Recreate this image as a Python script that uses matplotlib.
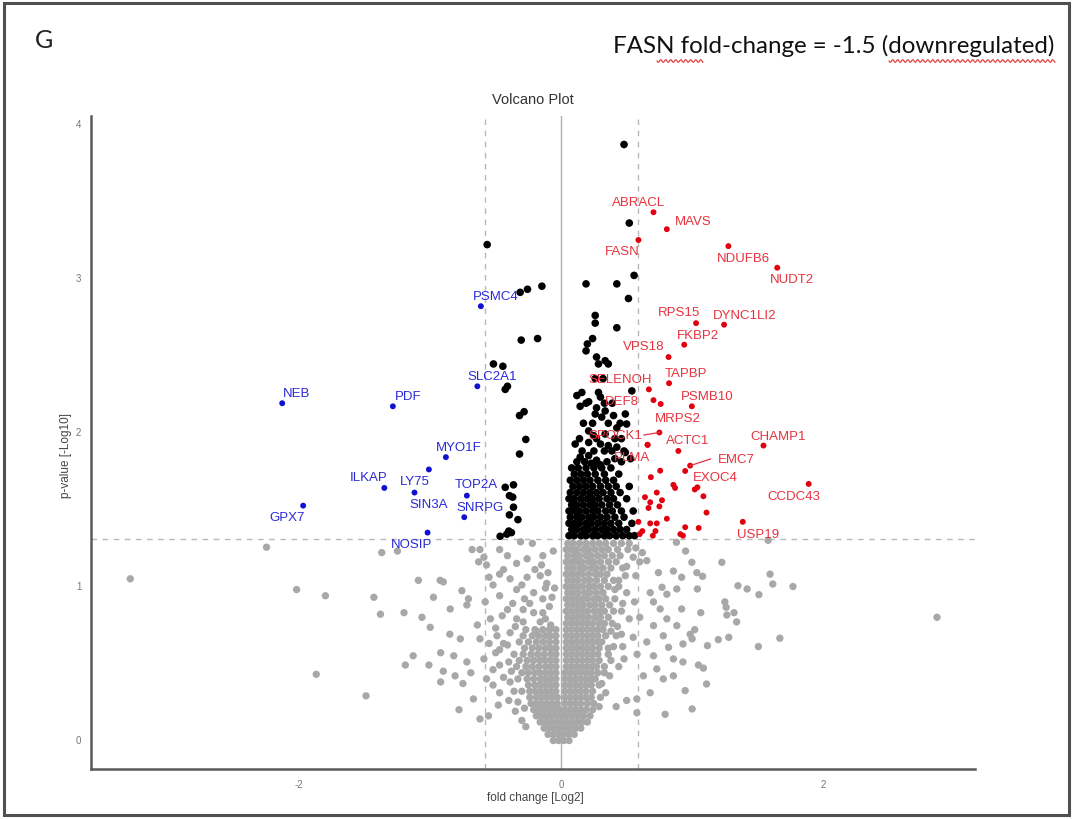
import numpy as np
import matplotlib.pyplot as plt
from matplotlib.patches import Rectangle
from matplotlib.lines import Line2D

# significance thresholds (fold change 1.5, p 0.05)
fc_cut = 0.585
p_cut = 1.301

# non-significant proteins: dense core as rows (y, x values) plus the loose spread
gray_core = [
    (1.27, [0.05, 0.09, 0.14, 0.19, 0.24, 0.29, 0.34, 0.40, 0.46]),
    (1.23, [0.04, 0.08, 0.12, 0.17, 0.21, 0.26, 0.31, 0.36, 0.43, 0.51]),
    (1.19, [0.05, 0.10, 0.14, 0.19, 0.23, 0.28, 0.33, 0.39]),
    (1.15, [0.04, 0.08, 0.12, 0.16, 0.21, 0.25, 0.30, 0.36, 0.42]),
    (1.11, [0.05, 0.09, 0.14, 0.18, 0.23, 0.27, 0.32, 0.38, 0.47]),
    (1.07, [0.04, 0.08, 0.12, 0.16, 0.21, 0.26, 0.30, 0.35]),
    (1.03, [0.05, 0.09, 0.13, 0.18, 0.22, 0.27, 0.33, 0.40]),
    (0.99, [0.04, 0.08, 0.12, 0.16, 0.21, 0.25, 0.30, 0.36, 0.44]),
    (0.95, [0.05, 0.09, 0.13, 0.18, 0.22, 0.27, 0.32]),
    (0.91, [0.04, 0.08, 0.12, 0.16, 0.20, 0.25, 0.29, 0.34, 0.41]),
    (0.87, [0.05, 0.09, 0.13, 0.17, 0.22, 0.26, 0.31, 0.37]),
    (0.83, [0.04, 0.08, 0.12, 0.16, 0.20, 0.25, 0.29, 0.33, 0.46]),
    (0.79, [0.05, 0.09, 0.13, 0.17, 0.21, 0.26, 0.30, 0.36]),
    (0.75, [0.04, 0.08, 0.12, 0.16, 0.20, 0.24, 0.29, 0.33, 0.39]),
    (0.71, [0.04, 0.08, 0.12, 0.16, 0.20, 0.24, 0.28, 0.32]),
    (0.67, [0.04, 0.08, 0.12, 0.16, 0.20, 0.24, 0.28, 0.34, 0.42]),
    (0.63, [0.04, 0.08, 0.12, 0.16, 0.20, 0.24, 0.28, 0.31]),
    (0.59, [0.04, 0.08, 0.12, 0.16, 0.20, 0.24, 0.29, 0.36]),
    (0.55, [0.04, 0.08, 0.12, 0.16, 0.20, 0.24, 0.28]),
    (0.51, [0.04, 0.08, 0.12, 0.16, 0.20, 0.24, 0.29, 0.38]),
    (0.47, [0.04, 0.08, 0.12, 0.16, 0.20, 0.24, 0.27]),
    (0.43, [0.03, 0.07, 0.11, 0.15, 0.19, 0.23, 0.28, 0.33]),
    (0.39, [0.03, 0.07, 0.11, 0.15, 0.19, 0.23, 0.26]),
    (0.35, [0.03, 0.07, 0.11, 0.15, 0.19, 0.23, 0.29]),
    (0.31, [0.03, 0.07, 0.11, 0.15, 0.19, 0.24]),
    (0.27, [0.03, 0.07, 0.11, 0.15, 0.19, 0.23, 0.30]),
    (0.23, [0.03, 0.07, 0.11, 0.15, 0.20, 0.25]),
    # left arm
    (0.71, [-0.04, -0.09, -0.14, -0.20, -0.27]),
    (0.67, [-0.04, -0.08, -0.12, -0.17, -0.22, -0.29]),
    (0.63, [-0.04, -0.09, -0.14, -0.19, -0.25, -0.32]),
    (0.59, [-0.04, -0.08, -0.12, -0.17, -0.22, -0.28]),
    (0.55, [-0.04, -0.08, -0.13, -0.18, -0.23, -0.29, -0.36]),
    (0.51, [-0.04, -0.08, -0.12, -0.16, -0.21, -0.26, -0.32]),
    (0.47, [-0.04, -0.08, -0.12, -0.17, -0.22, -0.27, -0.34]),
    (0.43, [-0.04, -0.08, -0.12, -0.16, -0.20, -0.25, -0.30]),
    (0.39, [-0.04, -0.08, -0.12, -0.16, -0.21, -0.26, -0.33]),
    (0.35, [-0.04, -0.08, -0.12, -0.16, -0.20, -0.25]),
    (0.31, [-0.04, -0.08, -0.12, -0.16, -0.20, -0.24, -0.30]),
    (0.27, [-0.03, -0.07, -0.11, -0.15, -0.19, -0.24]),
    (0.23, [-0.03, -0.07, -0.11, -0.15, -0.19, -0.23]),
    # bottom of the funnel
    (0.19, [-0.21, -0.17, -0.13, -0.09, -0.05, -0.01, 0.03, 0.07, 0.11, 0.15, 0.19, 0.24]),
    (0.15, [-0.19, -0.15, -0.11, -0.07, -0.03, 0.01, 0.05, 0.09, 0.13, 0.17, 0.22]),
    (0.11, [-0.16, -0.12, -0.08, -0.04, 0.00, 0.04, 0.08, 0.12, 0.16, 0.20]),
    (0.07, [-0.13, -0.09, -0.05, -0.01, 0.03, 0.07, 0.11, 0.15]),
    (0.03, [-0.10, -0.06, -0.02, 0.02, 0.06, 0.10]),
    (-0.01, [-0.06, -0.02, 0.02, 0.06]),
]

gray_spread = [
    (-3.29, 1.04), (-2.25, 1.245), (-2.02, 0.97), (-1.80, 0.93), (-1.43, 0.92),
    (-1.38, 0.81), (-1.20, 0.82), (-1.37, 1.21), (-1.25, 1.22), (-1.87, 0.42),
    (-1.49, 0.28), (-1.19, 0.48), (-1.09, 1.03), (-0.975, 0.92), (-1.063, 0.79),
    (-1.0, 0.725), (-0.924, 1.03), (-0.90, 1.02), (-0.847, 0.844), (-0.758, 0.963),
    (-0.708, 0.91), (-0.72, 0.87), (-1.13, 0.54), (-1.01, 0.48), (-0.92, 0.37),
    (-0.90, 0.44), (-0.81, 0.41), (-0.75, 0.36), (-0.67, 0.26), (-0.78, 0.19),
    (-0.555, 0.15), (-0.62, 0.13), (-0.69, 0.43), (-0.59, 0.52), (-0.50, 0.56),
    (-0.41, 0.61), (-0.57, 0.39), (-0.47, 0.48), (-0.47, 0.30), (-0.39, 0.37),
    (-0.85, 0.68), (-0.77, 0.65), (-0.92, 0.56), (-0.82, 0.54), (-0.72, 0.50),
    (-0.64, 0.74), (-0.62, 0.65), (-0.49, 0.67), (-0.39, 0.69),
    (-0.68, 1.23), (-0.62, 1.23), (-0.63, 1.15), (-0.57, 1.13), (-0.59, 1.18),
    (-0.47, 1.23), (-0.41, 1.19), (-0.31, 1.28), (-0.22, 1.27), (-0.14, 1.19),
    (-0.26, 1.17), (-0.34, 1.14), (-0.15, 1.13), (-0.47, 1.07), (-0.39, 1.04),
    (-0.26, 1.05), (-0.16, 1.06), (-0.11, 1.01), (-0.52, 1.00), (-0.47, 0.93),
    (-0.34, 0.97), (-0.21, 0.95), (-0.14, 0.91), (-0.07, 0.92), (-0.58, 0.89),
    (-0.54, 0.78), (-0.41, 0.84), (-0.29, 0.84), (-0.21, 0.82), (-0.14, 0.82),
    (-0.34, 0.78), (-0.16, 0.76), (-0.08, 0.74), (-0.55, 1.05), (-0.45, 0.80),
    (-0.50, 0.72), (-0.44, 0.62), (-0.52, 0.45), (-0.44, 0.40), (-0.48, 0.22),
    (-0.40, 0.25), (-0.35, 0.18), (-0.30, 0.12), (-0.27, 0.08), (-0.06, 1.22),
    (-0.10, 1.08), (-0.05, 0.98), (-0.28, 0.91), (-0.37, 0.88),
    (-0.30, 1.00), (-0.24, 0.88), (-0.44, 1.10), (-0.35, 0.73), (-0.29, 0.76),
    (-0.47, 0.58), (-0.40, 0.50), (-0.38, 0.44), (-0.36, 0.31), (-0.33, 0.24),
    (-0.28, 0.20), (-0.55, 0.62), (-0.52, 0.35), (-0.12, 0.98), (-0.20, 1.10),
    (-0.09, 0.86), (-0.19, 0.70), (-0.12, 0.78),
    (0.52, 1.27), (0.57, 1.24), (0.62, 1.21), (0.55, 1.18), (0.60, 1.15),
    (0.50, 1.12), (0.88, 1.277), (0.95, 1.22), (1.58, 1.29), (0.654, 1.158),
    (0.743, 1.08), (0.857, 1.09), (0.92, 1.05), (0.68, 0.95), (0.77, 0.985),
    (0.807, 0.94), (0.883, 0.974), (0.705, 0.89), (0.756, 0.844), (0.92, 0.844),
    (0.807, 0.78), (0.883, 0.736), (0.705, 0.736), (0.985, 0.68), (0.78, 0.67),
    (0.654, 0.63), (0.82, 0.595), (0.93, 0.617), (0.705, 0.54), (0.857, 0.52),
    (0.73, 0.455), (0.93, 0.50), (0.628, 0.41), (0.78, 0.39), (0.857, 0.41),
    (0.947, 0.314), (0.68, 0.30), (0.578, 0.26), (0.794, 0.16), (1.0, 0.195),
    (0.578, 0.17), (0.50, 0.25), (0.42, 0.21), (0.48, 0.52), (0.52, 0.78),
    (0.50, 0.95), (0.55, 0.66), (0.47, 0.60), (0.44, 1.03),
    (0.45, 1.19), (0.49, 1.06), (0.41, 0.97), (0.47, 0.88), (0.40, 0.83),
    (0.43, 0.73), (0.38, 0.70), (0.46, 0.68), (0.40, 0.60), (0.36, 0.55),
    (0.44, 0.47), (0.33, 0.47), (0.37, 0.41), (0.31, 0.36), (0.34, 0.30),
    (0.29, 0.21), (0.57, 1.06), (0.56, 0.89), (0.60, 0.79), (0.58, 0.55),
    (1.227, 1.147), (0.998, 1.147), (1.036, 1.08), (1.08, 1.056), (1.595, 1.07),
    (1.616, 1.006), (1.77, 0.99), (1.35, 0.995), (1.42, 0.974), (1.51, 0.937),
    (1.04, 0.974), (1.25, 0.89), (1.26, 0.855), (1.265, 0.805), (1.32, 0.82),
    (1.34, 0.76), (1.066, 0.82), (2.87, 0.79), (1.02, 0.71), (1.0, 0.65),
    (1.20, 0.645), (1.28, 0.66), (1.67, 0.654), (1.117, 0.606), (1.506, 0.60),
    (1.048, 0.48), (1.086, 0.46), (1.11, 0.357),
]

# significant but below the fold-change cut
black_core = [
    (1.32, [0.06, 0.10, 0.15, 0.19, 0.24, 0.28, 0.33, 0.37, 0.42, 0.47, 0.52, 0.56]),
    (1.36, [0.08, 0.12, 0.17, 0.21, 0.26, 0.31, 0.35, 0.40, 0.45, 0.50]),
    (1.40, [0.06, 0.10, 0.14, 0.19, 0.23, 0.28, 0.33, 0.38, 0.44, 0.54]),
    (1.44, [0.07, 0.12, 0.16, 0.21, 0.25, 0.30, 0.35, 0.41, 0.48]),
    (1.48, [0.06, 0.10, 0.14, 0.19, 0.24, 0.28, 0.34, 0.39, 0.46, 0.55]),
    (1.52, [0.08, 0.12, 0.17, 0.22, 0.26, 0.31, 0.37, 0.43]),
    (1.56, [0.06, 0.10, 0.15, 0.20, 0.24, 0.29, 0.35, 0.40, 0.50]),
    (1.60, [0.07, 0.12, 0.17, 0.22, 0.27, 0.32, 0.38, 0.45]),
    (1.64, [0.09, 0.14, 0.19, 0.24, 0.30, 0.36, 0.42, 0.52]),
    (1.68, [0.07, 0.12, 0.17, 0.22, 0.28, 0.34, 0.40]),
    (1.72, [0.10, 0.15, 0.20, 0.26, 0.33, 0.44]),
    (1.76, [0.08, 0.13, 0.19, 0.25, 0.31, 0.38]),
    (1.80, [0.12, 0.18, 0.27, 0.35, 0.46]),
    (1.87, [0.16, 0.25, 0.33, 0.48]),
    (1.95, [0.14, 0.27, 0.41, 0.46]),
    (2.05, [0.17, 0.24, 0.36, 0.45]),
    (2.18, [0.19, 0.33, 0.39]),
]

black_spread = [
    (0.48, 3.86), (0.52, 3.35), (0.557, 3.01), (0.19, 2.955), (0.425, 2.955),
    (0.514, 2.86), (0.26, 2.75), (0.26, 2.70), (0.425, 2.67), (0.24, 2.60),
    (0.20, 2.565), (0.19, 2.52), (0.27, 2.48), (0.285, 2.435), (0.336, 2.456),
    (0.36, 2.435), (0.26, 2.34), (0.32, 2.34), (0.54, 2.26), (0.12, 2.23),
    (0.158, 2.25), (0.285, 2.25), (0.30, 2.22), (0.21, 2.19), (0.145, 2.16),
    (0.27, 2.15), (0.336, 2.13), (0.26, 2.11), (0.31, 2.09), (0.40, 2.10),
    (0.49, 2.11), (0.50, 2.045), (0.425, 2.02), (0.21, 2.0), (0.247, 1.97),
    (0.336, 1.98), (0.107, 1.915), (0.21, 1.925), (0.30, 1.915), (0.36, 1.905),
    (0.425, 1.895), (0.387, 1.87), (0.49, 1.86), (0.145, 1.83), (0.21, 1.84),
    (0.27, 1.81), (0.41, 1.82), (0.53, 1.82), (0.23, 1.79), (0.30, 1.78),
    (-0.565, 3.21), (-0.257, 2.92), (-0.147, 2.94), (-0.313, 2.90), (-0.305, 2.59),
    (-0.18, 2.60), (-0.517, 2.435), (-0.445, 2.42), (-0.427, 2.27), (-0.41, 2.29),
    (-0.318, 2.10), (-0.283, 2.125), (-0.27, 1.945), (-0.318, 1.85), (-0.364, 1.65),
    (-0.427, 1.634), (-0.37, 1.57), (-0.395, 1.58), (-0.364, 1.505), (-0.395, 1.455),
    (-0.33, 1.424), (-0.40, 1.35), (-0.415, 1.33), (-0.466, 1.316), (-0.38, 1.34),
]

# down-regulated, labelled
blue_genes = ['PSMC4', 'SLC2A1', 'NEB', 'PDF', 'MYO1F', 'ILKAP', 'LY75', 'SIN3A',
              'TOP2A', 'SNRPG', 'GPX7', 'NOSIP']
blue_fc = [-0.613, -0.64, -2.13, -1.285, -0.88, -1.35, -1.01, -1.12,
           -0.72, -0.74, -1.97, -1.02]
blue_p = [2.81, 2.29, 2.18, 2.16, 1.83, 1.63, 1.75, 1.60,
          1.58, 1.44, 1.515, 1.34]

# up-regulated, labelled
red_genes = ['ABRACL', 'MAVS', 'FASN', 'NDUFB6', 'NUDT2', 'RPS15', 'DYNC1LI2', 'FKBP2',
             'VPS18', 'TAPBP', 'SELENOH', 'PSMB10', 'DEF8', 'MRPS2', 'SPOCK1', 'ACTC1',
             'CHAMP1', 'PLMA', 'EMC7', 'EXOC4', 'CCDC43', 'USP19']
red_fc = [0.705, 0.807, 0.59, 1.277, 1.65, 1.03, 1.244, 0.94,
          0.82, 0.824, 0.67, 0.998, 0.705, 0.76, 0.75, 0.895,
          1.545, 0.66, 0.985, 0.947, 1.89, 1.387]
red_p = [3.42, 3.31, 3.24, 3.20, 3.06, 2.70, 2.69, 2.56,
         2.48, 2.31, 2.27, 2.16, 2.20, 2.175, 1.99, 1.87,
         1.905, 1.91, 1.775, 1.74, 1.656, 1.41]

# up-regulated, unlabelled
red_extra = [
    (0.756, 1.742), (0.685, 1.70), (0.857, 1.65), (0.87, 1.63), (1.02, 1.62),
    (1.04, 1.634), (1.086, 1.576), (0.73, 1.60), (0.64, 1.57), (0.77, 1.55),
    (0.68, 1.537), (0.75, 1.51), (1.11, 1.47), (0.667, 1.50), (0.807, 1.43),
    (0.73, 1.40), (0.68, 1.40), (0.59, 1.41), (0.947, 1.375), (1.05, 1.37),
    (0.62, 1.35), (0.72, 1.35), (0.91, 1.33), (0.93, 1.32), (0.66, 1.91),
    (0.60, 1.33), (0.70, 1.32),
]

# label placement (data coords)
blue_label_xy = [(-0.496, 2.877), (-0.529, 2.359), (-2.018, 2.245), (-1.170, 2.229),
                 (-0.784, 1.894), (-1.471, 1.699), (-1.115, 1.677), (-1.013, 1.526),
                 (-0.651, 1.656), (-0.618, 1.508), (-2.094, 1.44), (-1.14, 1.266)]
red_label_xy = [(0.590, 3.489), (1.005, 3.362), (0.463, 3.171), (1.392, 3.121),
                (1.761, 2.987), (0.901, 2.771), (1.399, 2.753), (1.048, 2.623),
                (0.628, 2.554), (0.954, 2.374), (0.450, 2.338), (1.112, 2.229),
                (0.463, 2.197), (0.888, 2.084), (0.412, 1.974), (0.967, 1.942),
                (1.659, 1.969), (0.540, 1.829), (1.341, 1.818), (1.176, 1.699),
                (1.773, 1.580), (1.506, 1.331)]
with_segment = ['SPOCK1', 'EMC7']


def expand(rows):
    xs, ys = [], []
    for y, row in rows:
        xs += row
        ys += [y] * len(row)
    return xs, ys


W, H = 1073, 820
plt.rcParams['font.family'] = ['Liberation Sans', 'DejaVu Sans']
plt.rcParams['axes.unicode_minus'] = False
fig = plt.figure(figsize=(W / 100, H / 100), dpi=100)

ax = fig.add_axes([91 / W, 1 - 770 / H, (975 - 91) / W, (770 - 117) / H])
ax.set_xlim(-3.59, 3.16)
ax.set_ylim(-0.195, 4.045)

# reference lines
ax.axvline(0, color='#b0b0b0', lw=1.0, zorder=1)
for v in (-fc_cut, fc_cut):
    ax.axvline(v, color='#b8b8b8', lw=1.0, ls=(0, (4, 4)), zorder=1)
ax.axhline(p_cut, color='#b8b8b8', lw=1.0, ls=(0, (4, 4)), zorder=1)

gx, gy = expand(gray_core)
gx += [p[0] for p in gray_spread]
gy += [p[1] for p in gray_spread]
ax.scatter(gx, gy, s=28, color='#a8a8a8', edgecolors='none', zorder=2)

bx, by = expand(black_core)
bx += [p[0] for p in black_spread]
by += [p[1] for p in black_spread]
ax.scatter(bx, by, s=30, color='black', edgecolors='none', zorder=3)

ax.scatter([p[0] for p in red_extra], [p[1] for p in red_extra],
           s=18, color='#e00010', edgecolors='none', zorder=4)
ax.scatter(red_fc, red_p, s=18, color='#e00010', edgecolors='none', zorder=4)
ax.scatter(blue_fc, blue_p, s=18, color='#1010d0', edgecolors='none', zorder=4)

for g, (lx, ly) in zip(blue_genes, blue_label_xy):
    ax.text(lx, ly, g, color='#2a2ad8', fontsize=9.5, ha='center', va='center', zorder=5)

for g, x, y, (lx, ly) in zip(red_genes, red_fc, red_p, red_label_xy):
    ax.text(lx, ly, g, color='#e8323e', fontsize=9.5, ha='center', va='center', zorder=5)
    if g in with_segment:
        sx = lx + 0.22 if lx < x else lx - 0.2
        ax.plot([sx, x], [ly, y], color='#e8323e', lw=0.9, zorder=4)

for side in ('top', 'right'):
    ax.spines[side].set_visible(False)
for side in ('left', 'bottom'):
    ax.spines[side].set_color('#5a5a5a')
    ax.spines[side].set_linewidth(1.8)

ax.set_xticks([-2, 0, 2])
ax.set_yticks([0, 1, 2, 3, 4])
ax.tick_params(length=0, labelsize=7, labelcolor='#777777', pad=7)

fig.text(533 / W, 1 - 100 / H, 'Volcano Plot', ha='center', va='center',
         fontsize=10.5, color='#333333')
fig.text(535 / W, 1 - 798 / H, 'fold change [Log2]', ha='center', va='center',
         fontsize=8.5, color='#444444')
fig.text(66 / W, 1 - 456 / H, 'p-value [-Log10]', ha='center', va='center',
         rotation=90, fontsize=8.5, color='#444444')

# panel letter and note
fig.text(35 / W, 1 - 40 / H, 'G', fontsize=18, family='Lato', ha='left', va='center',
         color='#222222')
fig.text(613 / W, 1 - 46 / H, 'FASN fold-change = -1.5 (downregulated)', fontsize=17.4,
         family='Lato', ha='left', va='center', color='#111111')

# spell-check squiggles under the note
for x0, x1 in ((657, 703), (889, 1055)):
    t = np.linspace(x0, x1, int((x1 - x0) * 2))
    yy = 62 + 1.3 * np.sin((t - x0) * np.pi / 2.5)
    fig.add_artist(Line2D(t / W, 1 - yy / H, color='#e03030', lw=0.8))

fig.add_artist(Rectangle((4 / W, 4 / H), (W - 8) / W, (H - 8) / H, fill=False,
                         edgecolor='#505050', lw=2.2, transform=fig.transFigure))

fig.savefig('out.png', dpi=100)
